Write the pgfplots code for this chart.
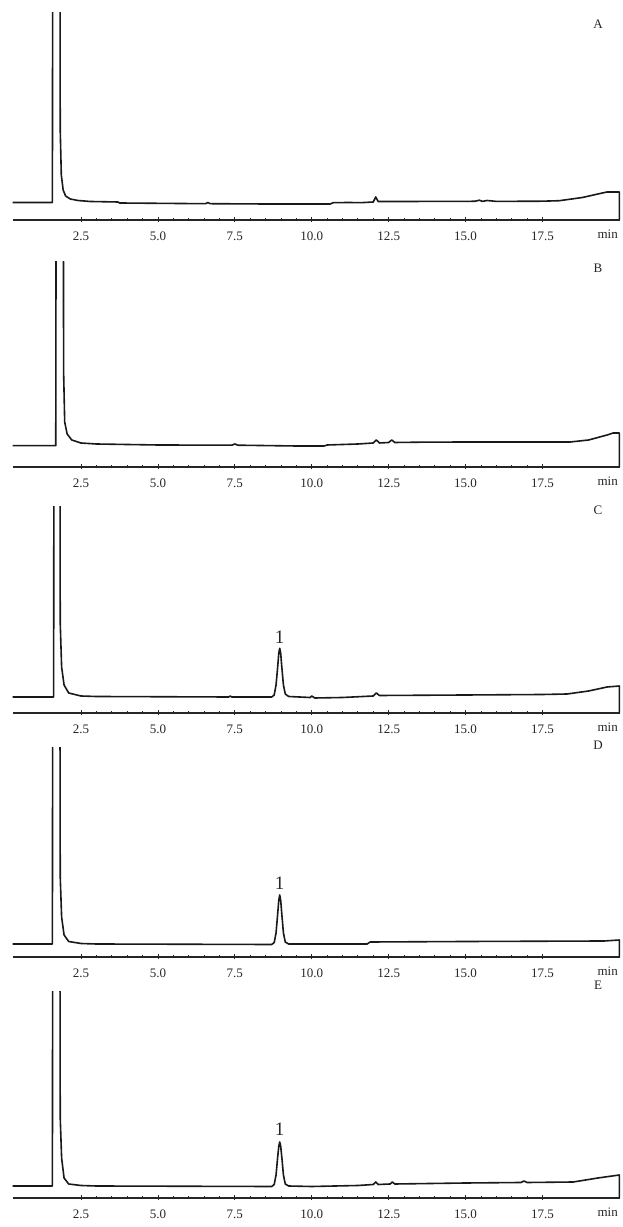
\documentclass[border=0pt]{standalone}
\usepackage{fontspec}
\setmainfont{Liberation Serif}
\usepackage{pgfplots}
\pgfplotsset{compat=1.18}

% one chromatogram panel, y in px above the time axis
\pgfplotsset{chrom/.style={
    scale only axis,
    width=607.3pt,
    anchor=south west,
    xmin=0.28, xmax=20.02,
    ymin=0,
    axis x line*=bottom,
    axis y line=none,
    axis line style={line width=1.2pt, black!85},
    xtick={2.5,5,...,17.5},
    minor x tick num=4,
    tick align=center,
    major tick length=5pt,
    minor tick length=3pt,
    tick style={line width=0.8pt, black!85},
    xticklabel style={font=\fontsize{13}{13}\selectfont, black!85, yshift=-6pt,
        /pgf/number format/.cd, fixed, fixed zerofill, precision=1, assume math mode=true},
    extra x ticks={19.62},
    extra x tick labels={min},
    extra x tick style={major tick length=0pt},
    cycle list={{black!90, no marks}},
    every axis plot post/.append style={line width=1.6pt, line join=round},
}}

\begin{document}
\begin{tikzpicture}[x=1pt,y=1pt]
\useasboundingbox (0,0) rectangle (622,1227);

% A
\begin{axis}[chrom, at={(12.7pt,1007pt)}, ymax=207, height=207pt]
\addplot coordinates {(0.28,17.5)(1.57,17.5)(1.585,400)(1.81,400)(1.825,90)(1.86,45)(1.92,30)(2.0,24)(2.15,21)(2.4,19.5)(2.8,18.5)(3.7,18)(3.75,17)(5.7,16.5)(6.55,16.3)(6.62,17.5)(6.7,16.3)(8.5,16)(10.6,16)(10.7,17.3)(11.2,17.5)(11.6,17.3)(12.0,18)(12.08,23)(12.16,18.5)(13.0,18.5)(15.3,18.7)(15.45,19.8)(15.55,18.6)(15.7,19.5)(16.0,18.6)(17.5,18.8)(18.05,19.3)(18.8,22.5)(19.3,26)(19.6,28)(20.0,28)(20.0,0)};
\end{axis}

% B
\begin{axis}[chrom, at={(12.7pt,760pt)}, ymax=205, height=205pt]
\addplot coordinates {(0.28,21.3)(1.68,21.3)(1.695,400)(1.92,400)(1.935,95)(1.97,45)(2.05,33)(2.2,27)(2.5,24)(3.0,23)(4.0,22.5)(5.0,22)(7.4,21.8)(7.5,23)(7.6,21.8)(9.5,21)(10.4,21)(10.5,22)(11.5,23)(12.0,24)(12.1,27)(12.2,24)(12.5,24.5)(12.6,27)(12.7,24.5)(13.5,24.8)(15.0,25)(17.5,25)(18.4,25)(19.0,27)(19.6,32)(19.8,34)(20.0,34)(20.0,0)};
\end{axis}

% C
\begin{axis}[chrom, at={(12.7pt,514pt)}, ymax=206, height=206pt]
\addplot coordinates {(0.28,16)(1.61,16)(1.625,400)(1.81,400)(1.825,90)(1.87,46)(1.95,28)(2.1,20)(2.5,17)(3.0,16.5)(7.3,16)(7.35,17)(7.4,16)(8.70,16)(8.78,18)(8.84,28)(8.89,45)(8.93,60)(8.96,64.7)(8.99,60)(9.03,45)(9.08,28)(9.14,19)(9.25,16.5)(9.95,15.5)(10.0,17)(10.1,15)(11.0,15.5)(12.0,17)(12.1,20)(12.2,17.5)(15.0,18)(17.5,18.5)(18.3,19)(19.0,22)(19.6,26)(20.0,27)(20.0,0)};
\node[font=\fontsize{19}{19}\selectfont, black!85] at (axis cs:8.96,76) {1};
\end{axis}

% D
\begin{axis}[chrom, at={(12.7pt,270pt)}, ymax=209, height=209pt]
\addplot coordinates {(0.28,13)(1.57,13)(1.585,400)(1.81,400)(1.825,80)(1.87,40)(1.95,22)(2.1,15.5)(2.5,13.5)(3.0,13)(8.70,12.5)(8.78,14.5)(8.84,24)(8.89,42)(8.93,57)(8.96,62)(8.99,57)(9.03,42)(9.08,24)(9.14,15)(9.25,13)(11.8,13)(11.9,15)(15.0,15.5)(19.5,16)(20.0,17)(20.0,0)};
\node[font=\fontsize{19}{19}\selectfont, black!85] at (axis cs:8.96,74) {1};
\end{axis}

% E
\begin{axis}[chrom, at={(12.7pt,29pt)}, ymax=206, height=206pt]
\addplot coordinates {(0.28,12)(1.57,12)(1.585,400)(1.81,400)(1.825,80)(1.87,40)(1.95,20)(2.1,14)(2.5,12.5)(3.0,12)(8.70,11.5)(8.78,13.5)(8.84,23)(8.89,40)(8.93,52)(8.96,56)(8.99,52)(9.03,40)(9.08,23)(9.14,14)(9.25,12)(10.0,11.5)(11.5,12.5)(12.0,13.5)(12.08,16)(12.16,13.5)(12.55,14)(12.62,16)(12.7,14)(15.0,15)(16.8,15.5)(16.9,17)(17.0,15.5)(18.5,16)(19.3,20)(20.0,23)(20.0,0)};
\node[font=\fontsize{19}{19}\selectfont, black!85] at (axis cs:8.96,69) {1};
\end{axis}

% panel letters
\node[font=\fontsize{13}{13}\selectfont, black!85] at (598,1203) {A};
\node[font=\fontsize{13}{13}\selectfont, black!85] at (598,959) {B};
\node[font=\fontsize{13}{13}\selectfont, black!85] at (598,717) {C};
\node[font=\fontsize{13}{13}\selectfont, black!85] at (598,482) {D};
\node[font=\fontsize{13}{13}\selectfont, black!85] at (598,242) {E};
\end{tikzpicture}
\end{document}
